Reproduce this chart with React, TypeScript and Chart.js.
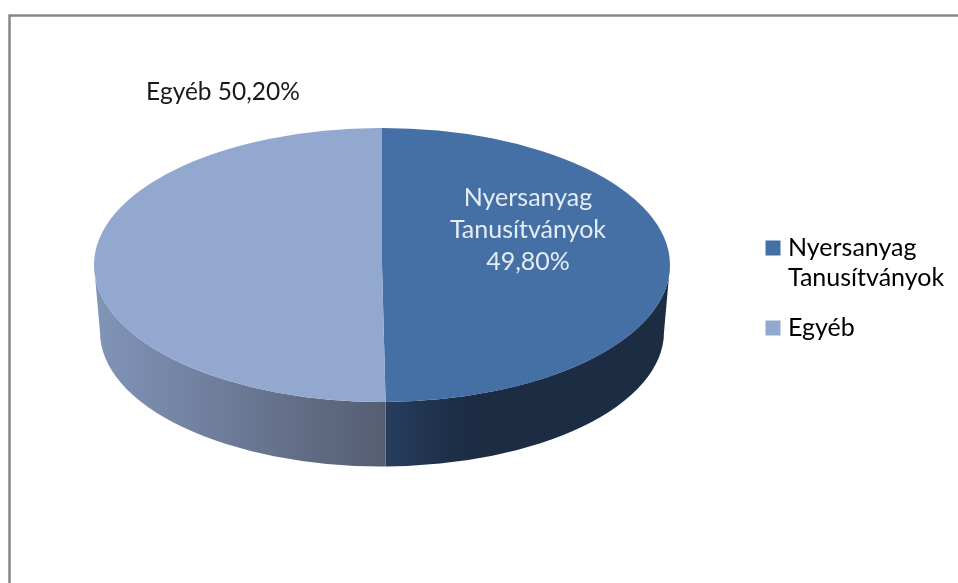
import React, { useEffect, useRef } from "react";
import { Chart, registerables } from "chart.js";

Chart.register(...registerables);

const categories = ["Nyersanyag Tanusítványok", "Egyéb"];
const legendLines = [["Nyersanyag", "Tanusítványok"], ["Egyéb"]];
const values = [49.8, 50.2];
const valueLabels = ["49,80%", "50,20%"];
const colors = ["#4470A6", "#93A8CF"];

const FONT = "Lato, 'Open Sans', sans-serif";
const TOP = { cx: 382, cy: 265, rx: 288, ry: 137 };
const BOTTOM = { cx: 382, cy: 332, rx: 282, ry: 134.5 };

const sideGradients = [
  [[386, "#273D5C"], [470, "#1B2C43"], [670, "#1B2C43"]],
  [[94, "#8195B8"], [386, "#555D72"]],
];

const piePlugin = {
  id: "pie3d",
  beforeDraw(chart: any) {
    const { ctx, width, height } = chart;
    ctx.save();
    ctx.strokeStyle = "#868686";
    ctx.lineWidth = 2.5;
    ctx.beginPath();
    ctx.moveTo(9.5, height);
    ctx.lineTo(9.5, 15.5);
    ctx.lineTo(width, 15.5);
    ctx.stroke();
    ctx.restore();
  },
  afterLayout(chart: any) {
    const l = chart.legend;
    const dx = 750.5 - l.left;
    const dy = 290.5 - (l.top + l.bottom) / 2;
    l.left += dx;
    l.right += dx;
    l.top += dy;
    l.bottom += dy;
    l.adjustHitBoxes();
  },
  beforeDatasetsDraw(chart: any) {
    const { ctx } = chart;
    const arcs = chart.getDatasetMeta(0).data;
    arcs.forEach((arc: any, i: number) => {
      const { startAngle, endAngle } = arc.getProps(["startAngle", "endAngle"], true);
      const a = Math.max(startAngle, 0);
      const b = Math.min(endAngle, Math.PI);
      if (b <= a) return;
      const stops = sideGradients[i] as [number, string][];
      const x0 = stops[0][0];
      const x1 = stops[stops.length - 1][0];
      const g = ctx.createLinearGradient(x0, 0, x1, 0);
      stops.forEach(([x, c]) => g.addColorStop((x - x0) / (x1 - x0), c));
      ctx.save();
      ctx.fillStyle = g;
      ctx.beginPath();
      ctx.ellipse(TOP.cx, TOP.cy, TOP.rx, TOP.ry, 0, a, b, false);
      ctx.ellipse(BOTTOM.cx, BOTTOM.cy, BOTTOM.rx, BOTTOM.ry, 0, b, a, true);
      ctx.closePath();
      ctx.fill();
      ctx.restore();
    });
    const { x, y, outerRadius } = arcs[0].getProps(["x", "y", "outerRadius"], true);
    ctx.save();
    ctx.translate(TOP.cx, TOP.cy);
    ctx.scale(TOP.rx / outerRadius, TOP.ry / outerRadius);
    ctx.translate(-x, -y);
  },
  afterDatasetsDraw(chart: any) {
    const { ctx } = chart;
    ctx.restore();
    ctx.save();
    ctx.font = `25px ${FONT}`;
    ctx.textAlign = "center";
    ctx.textBaseline = "alphabetic";
    ctx.fillStyle = "#E6ECF4";
    [...legendLines[0], valueLabels[0]].forEach((t, i) => {
      ctx.fillText(t, 528, 206 + i * 32);
    });
    ctx.font = `24.5px ${FONT}`;
    ctx.fillStyle = "#1A1A1A";
    ctx.fillText(`${legendLines[1][0]} ${valueLabels[1]}`, 223, 100);
    ctx.restore();
  },
};

export default function App() {
  const ref = useRef<HTMLCanvasElement>(null);
  useEffect(() => {
    const chart = new Chart(ref.current!, {
      type: "pie",
      data: {
        labels: categories,
        datasets: [{ data: values, backgroundColor: colors, borderWidth: 0 }],
      },
      options: {
        responsive: false,
        animation: false,
        plugins: {
          tooltip: { enabled: false },
          legend: {
            position: "right",
            labels: {
              usePointStyle: true,
              boxWidth: 5,
              boxHeight: 15,
              padding: 20,
              color: "#1A1A1A",
              font: { family: FONT, size: 25, lineHeight: 1.2 },
              generateLabels: () =>
                categories.map((_, i) => ({
                  text: legendLines[i],
                  fillStyle: colors[i],
                  strokeStyle: colors[i],
                  lineWidth: 0,
                  pointStyle: "rect",
                  index: i,
                })) as any,
            },
          },
        },
      },
      plugins: [piePlugin as any],
    });
    return () => chart.destroy();
  }, []);
  return (
    <div style={{ width: 958, height: 583 }}>
      <canvas
        ref={ref}
        width={958}
        height={583}
        style={{ position: "fixed", left: 0, top: 0, display: "block" }}
      />
    </div>
  );
}
